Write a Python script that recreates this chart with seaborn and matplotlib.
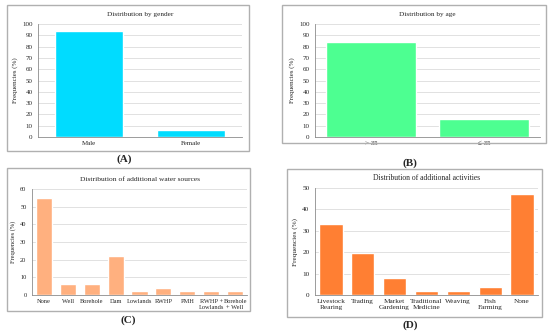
import matplotlib
matplotlib.use("Agg")
import matplotlib.pyplot as plt
from matplotlib.patches import Rectangle
import pandas as pd
import seaborn as sns

# DATA
gender_cats = ["Male", "Female"]
gender_vals = [94, 6]

age_cats = ["> 35", "\u2264 35"]
age_vals = [84, 16]

water_cats = ["None", "Well", "Borehole", "Dam", "Lowlands", "RWHP", "PMH",
              "RWHP +\nLowlands", "Borehole\n+ Well"]
water_vals = [55, 6, 6, 22, 2, 4, 2, 2, 2]

activity_cats = ["Livestock\nRearing", "Trading", "Market\nGardening",
                 "Traditional\nMedicine", "Weaving", "Fish\nFarming", "None"]
activity_vals = [33.3, 19.5, 7.8, 1.9, 1.9, 3.8, 47]

sns.set_style("white")
plt.rcParams['font.family'] = ['Liberation Serif', 'DejaVu Serif']

W, H = 550, 334
fig = plt.figure(figsize=(5.5, 3.34), dpi=100)


def px_axes(x0, y0, x1, y1):
    return fig.add_axes([x0 / W, 1 - y1 / H, (x1 - x0) / W, (y1 - y0) / H])


def px_box(x0, y0, x1, y1):
    fig.patches.append(Rectangle((x0 / W, 1 - y1 / H), (x1 - x0) / W, (y1 - y0) / H,
                                 transform=fig.transFigure, fill=False,
                                 edgecolor="#b0b0b0", linewidth=1.0))


def panel(ax, cats, vals, color, title, ymax, step, width, fs=5.0, title_fs=5.2):
    df = pd.DataFrame({"cat": cats, "val": vals})
    sns.barplot(data=df, x="cat", y="val", color=color, saturation=1,
                width=width, ax=ax)
    ax.set_ylim(0, ymax)
    ax.set_yticks(range(0, ymax + 1, step))
    ax.yaxis.grid(True, color="#dcdcdc", linewidth=0.6)
    ax.set_axisbelow(True)
    for s in ["top", "right"]:
        ax.spines[s].set_visible(False)
    for s in ["left", "bottom"]:
        ax.spines[s].set_color("#8c8c8c")
        ax.spines[s].set_linewidth(0.6)
    ax.tick_params(axis="y", labelsize=fs, length=2, width=0.5, color="#8c8c8c", pad=2)
    ax.tick_params(axis="x", labelsize=fs, length=0, pad=3)
    ax.set_xlabel("")
    ax.set_ylabel("Frequencies (%)", fontsize=fs, labelpad=3)
    ax.set_title(title, fontsize=title_fs, pad=6)


px_box(7, 5, 249, 151)
px_box(282, 5, 546, 143)
px_box(7, 168, 250, 311)
px_box(287, 169, 542, 317)

axA = px_axes(38, 24, 242, 137)
panel(axA, gender_cats, gender_vals, "#00DCFF", "Distribution by gender", 100, 10, 0.67)
axB = px_axes(315, 24, 540, 137)
panel(axB, age_cats, age_vals, "#4DFF91", "Distribution by age", 100, 10, 0.8)
axC = px_axes(32, 189, 247, 295)
panel(axC, water_cats, water_vals, "#FFB07F", "Distribution of additional water sources", 60, 10, 0.67,
      fs=4.6, title_fs=5.4)
axD = px_axes(315, 188, 538, 295)
panel(axD, activity_cats, activity_vals, "#FF7F33", "Distribution of additional activities", 50, 10, 0.73,
      fs=5.2, title_fs=5.5)

for lab, x, y in [("(A)", 124, 159), ("(B)", 410, 163), ("(C)", 128, 320), ("(D)", 410, 325)]:
    fig.text(x / W, 1 - y / H, lab, ha="center", va="center", fontsize=8, fontweight="bold")

fig.savefig("out.png", dpi=100)
